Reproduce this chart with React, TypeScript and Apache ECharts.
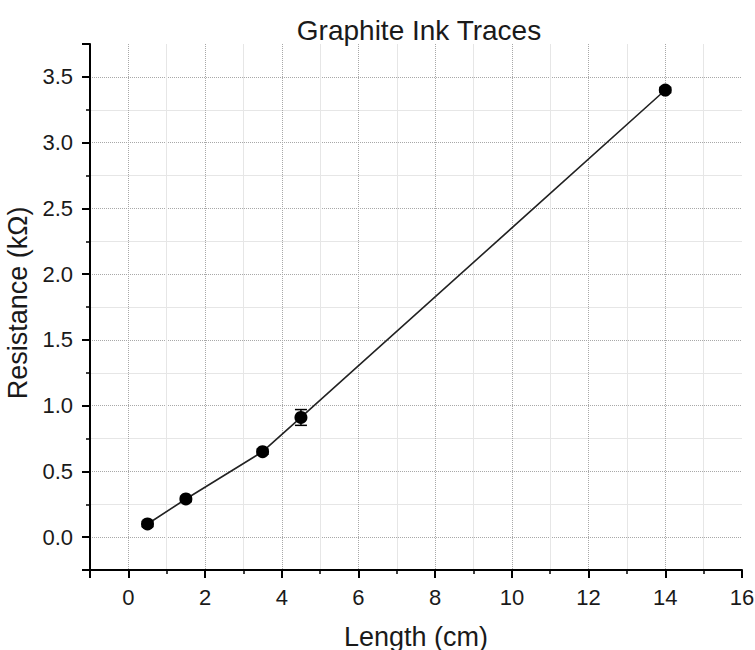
import React, { useEffect, useRef } from "react";
import * as echarts from "echarts";

const lengths = [0.5, 1.5, 3.5, 4.5, 14];
const resistances = [0.1, 0.29, 0.65, 0.91, 3.4];
const errors = [0.02, 0.02, 0.02, 0.06, 0.02];

const FONT = 'Arial, "Liberation Sans", sans-serif';
const TEXT = "#1a1a1a";

export default function App() {
  const ref = useRef<HTMLDivElement>(null);
  useEffect(() => {
    if (!ref.current) return;
    const chart = echarts.init(ref.current, null, { renderer: "svg" });
    const points = lengths.map((x, i) => [x, resistances[i]]);
    const errData = lengths.map((x, i) => [x, resistances[i], errors[i]]);
    const axisCommon = {
      axisLine: { show: true, onZero: false, lineStyle: { color: "#000", width: 2 } },
      axisTick: { show: true, inside: false, length: 8, lineStyle: { color: "#000", width: 2 } },
      minorTick: { show: true, splitNumber: 2, length: 4, lineStyle: { color: "#000", width: 1.5 } },
      splitLine: {
        show: true,
        showMinLine: false,
        showMaxLine: false,
        lineStyle: { color: "#a8a8a8", type: "dotted", width: 1 },
      },
      minorSplitLine: { show: true, lineStyle: { color: "#e6e6e6", width: 1 } },
      axisLabel: {
        color: TEXT,
        fontSize: 22,
        fontFamily: FONT,
        showMinLabel: false,
        showMaxLabel: true,
      },
    };
    chart.setOption({
      animation: false,
      backgroundColor: "#fff",
      title: {
        text: "Graphite Ink Traces",
        left: 414,
        top: 11,
        textAlign: "center",
        textStyle: { color: TEXT, fontSize: 28, fontWeight: "normal", fontFamily: FONT },
      },
      grid: {
        left: 90,
        right: 13,
        top: 44,
        bottom: 80,
        containLabel: false,
        outerBoundsMode: "none",
      },
      xAxis: {
        type: "value",
        min: -1,
        max: 16,
        minInterval: 2,
        maxInterval: 2,
        name: "Length (cm)",
        nameLocation: "middle",
        nameGap: 53,
        nameTextStyle: { color: TEXT, fontSize: 27, fontFamily: FONT },
        ...axisCommon,
        axisLabel: { ...axisCommon.axisLabel, margin: 16 },
      },
      yAxis: {
        type: "value",
        min: -0.25,
        max: 3.75,
        minInterval: 0.5,
        maxInterval: 0.5,
        name: "Resistance (kΩ)",
        nameLocation: "middle",
        nameGap: 52,
        nameTextStyle: { color: TEXT, fontSize: 27, fontFamily: FONT, padding: [0, 0, 0, 8] },
        ...axisCommon,
        axisLabel: {
          ...axisCommon.axisLabel,
          showMaxLabel: false,
          margin: 17,
          formatter: (v: number) => v.toFixed(1),
        },
      },
      series: [
        {
          type: "custom",
          z: 1,
          data: errData,
          renderItem: (params: any, api: any) => {
            const x = api.value(0);
            const y = api.value(1);
            const e = api.value(2);
            const top = api.coord([x, y + e]);
            const bot = api.coord([x, y - e]);
            const hw = 6;
            const style = { stroke: "#000", lineWidth: 1.5 };
            return {
              type: "group",
              children: [
                { type: "line", shape: { x1: top[0], y1: top[1], x2: bot[0], y2: bot[1] }, style },
                { type: "line", shape: { x1: top[0] - hw, y1: top[1], x2: top[0] + hw, y2: top[1] }, style },
                { type: "line", shape: { x1: bot[0] - hw, y1: bot[1], x2: bot[0] + hw, y2: bot[1] }, style },
              ],
            };
          },
        },
        {
          type: "line",
          z: 2,
          data: points,
          symbol: "circle",
          symbolSize: 13,
          showSymbol: true,
          itemStyle: { color: "#000" },
          lineStyle: { color: "#222", width: 1.6 },
        },
      ],
    });
    return () => chart.dispose();
  }, []);
  return (
    <div
      ref={ref}
      style={{ position: "fixed", left: 0, top: 0, width: 755, height: 650 }}
    />
  );
}
